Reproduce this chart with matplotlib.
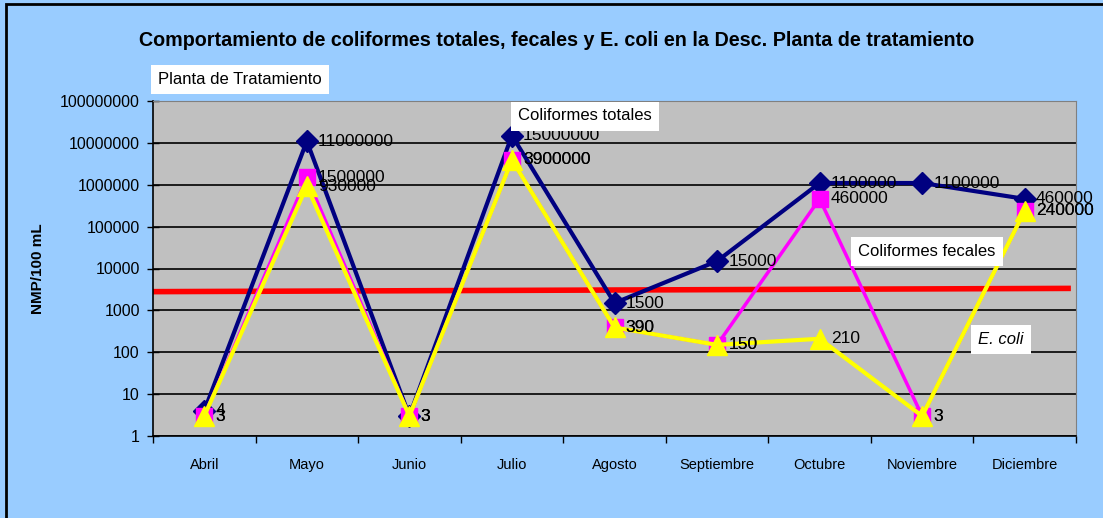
import matplotlib.pyplot as plt
from matplotlib.patches import Rectangle

meses = ["Abril", "Mayo", "Junio", "Julio", "Agosto", "Septiembre",
         "Octubre", "Noviembre", "Diciembre"]
totales = [4, 11000000, 3, 15000000, 1500, 15000, 1100000, 1100000, 460000]
fecales = [3, 1500000, 3, 3900000, 390, 150, 460000, 3, 240000]
ecoli = [3, 930000, 3, 3900000, 390, 150, 210, 3, 240000]
# red reference line, left and right end values
limite = [2800, 3350]
y_ticks = [1, 10, 100, 1000, 10000, 100000, 1000000, 10000000, 100000000]

plt.rcParams['font.family'] = ['Liberation Sans', 'DejaVu Sans']

fig = plt.figure(figsize=(11.03, 5.18), dpi=100)
fig.patch.set_facecolor('#99CCFF')
# outer chart frame
fig.patches.append(Rectangle((6 / 1103, -0.1), 1.2, 1.1 - 4 / 518,
                             transform=fig.transFigure, fill=False,
                             edgecolor='black', linewidth=2))

ax = fig.add_axes([153 / 1103, 1 - 436 / 518, 923 / 1103, 335 / 518])
ax.set_facecolor('#C0C0C0')
ax.set_yscale('log')
ax.set_ylim(1, 100000000)
ax.set_xlim(-0.5, len(meses) - 0.5)

x = list(range(len(meses)))
ax.set_yticks(y_ticks)
ax.set_yticklabels([str(v) for v in y_ticks])
ax.minorticks_off()
ax.yaxis.grid(True, color='black', linewidth=1.2)
ax.set_axisbelow(True)

ax.set_xticks(x)
ax.set_xticklabels(meses)
ax.set_xticks([i - 0.5 for i in range(len(meses) + 1)], minor=True)
ax.tick_params(axis='x', which='major', length=0, pad=16, labelsize=10.5)
ax.tick_params(axis='x', which='minor', length=5, direction='out', width=1)
ax.tick_params(axis='y', which='major', length=9, direction='inout',
               width=1, pad=5, labelsize=11.5)

for s in ['top', 'right']:
    ax.spines[s].set_color('#808080')
for s in ['left', 'bottom']:
    ax.spines[s].set_color('black')
    ax.spines[s].set_linewidth(1.2)

ax.plot([x[0] - 0.5, x[-1] + 0.45], limite, color='#FF0000', linewidth=4,
        zorder=2, solid_capstyle='butt')

ax.plot(x, totales, color='#000080', linewidth=3, marker='D', markersize=11,
        zorder=3, clip_on=False)
ax.plot(x, fecales, color='#FF00FF', linewidth=2.5, marker='s', markersize=12,
        zorder=4, clip_on=False)
ax.plot(x, ecoli, color='#FFFF00', linewidth=3, marker='^', markersize=14,
        zorder=5, clip_on=False)

for serie in [totales, fecales, ecoli]:
    for xi, v in zip(x, serie):
        ax.annotate(str(v), (xi, v), xytext=(8, 0), textcoords='offset points',
                    ha='left', va='center', fontsize=12.5, zorder=6,
                    annotation_clip=False)

ax.set_ylabel("NMP/100 mL", fontsize=11, fontweight='bold', labelpad=11)

fig.text(0.505, 1 - 40 / 518,
         "Comportamiento de coliformes totales, fecales y E. coli en la Desc. "
         "Planta de tratamiento",
         ha='center', va='center', fontsize=14.2, fontweight='bold')

caja = dict(facecolor='white', edgecolor='none', pad=5)
fig.text(240 / 1103, 1 - 79 / 518, "Planta de Tratamiento", ha='center',
         va='center', fontsize=12, bbox=caja)
fig.text(585 / 1103, 1 - 116 / 518, "Coliformes totales", ha='center',
         va='center', fontsize=12, bbox=caja, zorder=10)
fig.text(927 / 1103, 1 - 251 / 518, "Coliformes fecales", ha='center',
         va='center', fontsize=12, bbox=caja, zorder=10)
fig.text(1001 / 1103, 1 - 339 / 518, "E. coli", ha='center', va='center',
         fontsize=12, style='italic', bbox=caja, zorder=10)

fig.savefig("out.png", dpi=100, facecolor=fig.get_facecolor())
